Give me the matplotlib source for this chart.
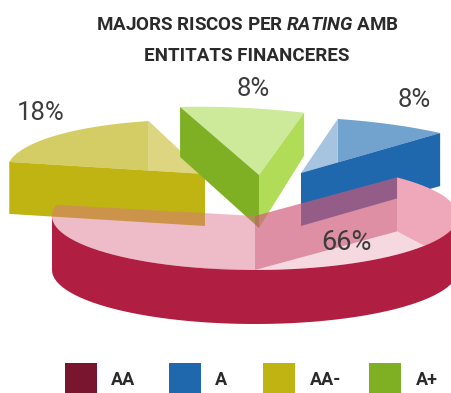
import numpy as np
import matplotlib
matplotlib.use("Agg")
import matplotlib.pyplot as plt
from matplotlib.patches import Polygon, Rectangle

TITLE_1 = r"MAJORS RISCOS PER $\mathit{RATING}$ AMB"
TITLE_2 = "ENTITATS FINANCERES"
RATINGS = ["AA", "A", "AA-", "A+"]
SHARES = [66, 8, 18, 8]
SHARE_TEXT = ["66%", "8%", "18%", "8%"]
LEGEND_COLORS = ["#7a1530", "#2068ad", "#bfb412", "#7fb023"]

plt.rcParams["font.family"] = ["Roboto", "DejaVu Sans"]
plt.rcParams["mathtext.fontset"] = "custom"
plt.rcParams["mathtext.it"] = "Roboto:italic:bold"
plt.rcParams["mathtext.rm"] = "Roboto:bold"

fig = plt.figure(figsize=(4.51, 3.93), dpi=100)
ax = fig.add_axes([0, 0, 1, 1])
ax.set_xlim(0, 451)
ax.set_ylim(393, 0)
ax.axis("off")


def sweep(share):
    return 360 * share / 100


def rim(c, th, a=203, b=54, s=0.0):
    th = np.radians(th)
    dx = a * np.cos(th)
    return np.column_stack([c[0] + dx, c[1] - b * np.sin(th) + s * dx])


def arc(c, th1, th2, **kw):
    return rim(c, np.linspace(th1, th2, 60), **kw)


def poly(pts, color, alpha=1.0):
    ax.add_patch(Polygon(pts, closed=True, fc=color, ec="none", alpha=alpha))


def down(pts, h):
    return np.asarray(pts) + [0, h]


# ----- olive slice, 18% -----
c = (205, 174)
shape = dict(a=198, s=0.02)
th1 = 106.5
th2 = th1 + sweep(SHARES[2])
back = rim(c, th1, **shape)[0]
front = rim(c, th2, **shape)[0]
split = front + (np.array(c) - front) * (back[0] - front[0]) / (c[0] - front[0])
poly(np.vstack([arc(c, th1, th2, **shape), [split]]), "#d4cd66")
poly([c, back, split], "#ddd580")
poly([front, c, down(c, 52), down(front, 52)], "#bfb412")

# ----- blue slice, 8% -----
c = (301, 173)
shape = dict(a=225, b=55.8, s=0.028)
th1 = 51.8
th2 = th1 + sweep(SHARES[1])
back = rim(c, th2, **shape)[0]
front = rim(c, th1, **shape)[0]
split = np.array(c) + (front - c) * (back[0] - c[0]) / (front[0] - c[0])
poly(np.vstack([arc(c, th1, th2, **shape), [split]]), "#72a3ce")
poly([c, back, split], "#a6c3df")
poly([c, front, down(front, 53), down(c, 53)], "#2068ad")

# ----- green slice, 8% -----
c = (259, 175)
shape = dict(a=250, b=66.3, s=0.065)
th1 = 79.6
th2 = th1 + sweep(SHARES[3])
poly(np.vstack([[c], arc(c, th1, th2, **shape)]), "#cde99a")
left = rim(c, th2, **shape)[0]
right = rim(c, th1, **shape)[0]
poly([left, c, down(c, 53), down(left, 50)], "#7fb023")
poly([c, right, down(right, 43), down(c, 53)], "#b0dc57")

# ----- main slice, 66% -----
c = np.array([255, 216])
h = 54
th1 = 45.6
th2 = th1 + 360 - sweep(SHARES[0])
edge = 326.5
p1 = rim(c, th1)[0]
p2 = rim(c, th2)[0]
poly(np.vstack([[down(c, h)], [down(p1, h)], arc(c, edge, 250)]), "#f5d8e0")
poly(np.vstack([arc(c, th1, edge - 360), [down(p1, h)]]), "#efa8ba")
poly([c, p1, down(p1, h), down(c, h)], "#ce5877", 0.67)
poly(np.vstack([[c], arc(c, th2, 270)]), "#db718a", 0.47)
poly(np.vstack([arc(c, 180, 360), arc(down(c, h), 360, 180)]), "#b01f42")

# ----- percent labels -----
label_pos = [(346, 242), (414, 100), (41, 113), (253, 89)]
label_size = [19.5, 18.5, 18.5, 18.5]
for txt, (x, y), fs in zip(SHARE_TEXT, label_pos, label_size):
    ax.text(x, y, txt, fontsize=fs, color="#3c3c3c", ha="center", va="center")

# ----- title -----
ax.text(247, 25, TITLE_1, fontsize=13.5, fontweight="bold", color="#2a2a2a", ha="center", va="center")
ax.text(247, 56, TITLE_2, fontsize=13.5, fontweight="bold", color="#2a2a2a", ha="center", va="center")

# ----- legend -----
box_x = [65, 169, 263, 369]
text_x = [111, 215, 310, 416]
for name, col, bx, tx in zip(RATINGS, LEGEND_COLORS, box_x, text_x):
    ax.add_patch(Rectangle((bx, 363), 32, 31, fc=col, ec="none"))
    ax.text(tx, 380, name, fontsize=13, fontweight="bold", color="#2a2a2a", ha="left", va="center")

fig.savefig("out.png", dpi=100)
